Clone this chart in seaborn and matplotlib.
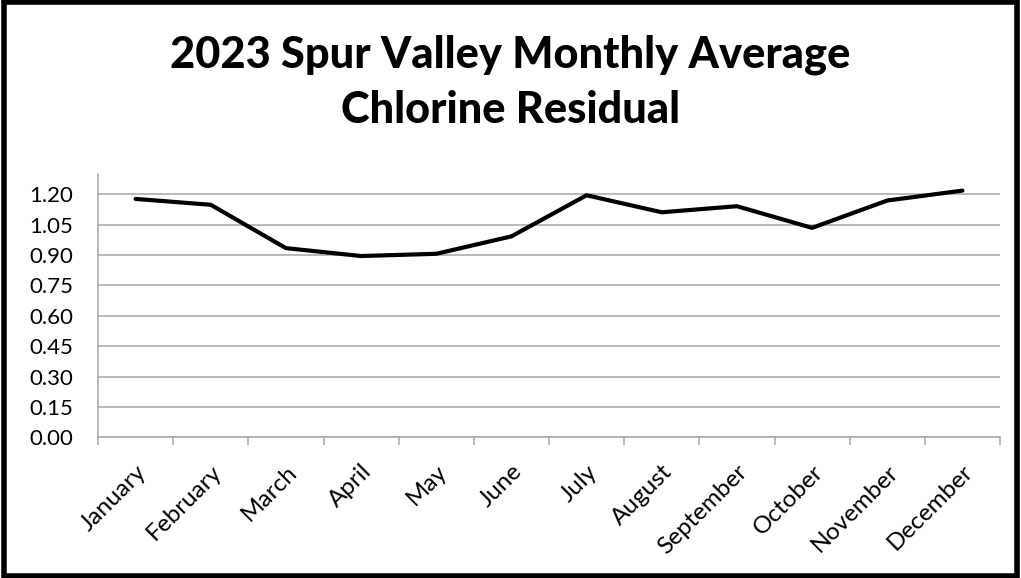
import matplotlib
matplotlib.use("Agg")
import matplotlib.pyplot as plt
import seaborn as sns
import pandas as pd
from matplotlib.patches import Rectangle
from matplotlib.ticker import FixedLocator

months = ["January", "February", "March", "April", "May", "June", "July",
          "August", "September", "October", "November", "December"]
chlorine = [1.177, 1.148, 0.934, 0.895, 0.906, 0.992, 1.195, 1.111, 1.141, 1.034, 1.169, 1.218]
yticks = [0.00, 0.15, 0.30, 0.45, 0.60, 0.75, 0.90, 1.05, 1.20]
title = "2023 Spur Valley Monthly Average\nChlorine Residual"

sns.set_style("white")
plt.rcParams['font.family'] = ['Lato', 'DejaVu Sans']

df = pd.DataFrame({"Month": months, "Chlorine": chlorine})

fig = plt.figure(figsize=(10.21, 5.78), dpi=100)
ax = fig.add_axes([98/1021, 1 - 437.3/578, (1000 - 98)/1021, (437.3 - 174)/578])

sns.lineplot(data=df, x="Month", y="Chlorine", ax=ax, color="black", linewidth=3.0, sort=False)

ax.set_xlim(-0.5, len(months) - 0.5)
ax.set_ylim(0, 1.30)
ax.set_yticks(yticks)
ax.set_yticklabels([f"{v:.2f}" for v in yticks])
ax.yaxis.grid(True, color="#a6a6a6", linewidth=1.1)
ax.set_axisbelow(True)

ax.set_xticks(range(len(months)))
ax.set_xticklabels(months, rotation=45, ha="right", rotation_mode="anchor")
ax.xaxis.set_minor_locator(FixedLocator([i - 0.5 for i in range(len(months) + 1)]))
ax.tick_params(axis="x", which="major", length=0, pad=17, labelsize=17.5, labelcolor="black")
ax.tick_params(axis="x", which="minor", length=6, width=1.1, color="#a6a6a6", direction="out", bottom=True)
ax.tick_params(axis="y", length=6, width=1.1, color="#a6a6a6", direction="out", labelsize=16, pad=12,
               labelcolor="black")

for s in ["top", "right"]:
    ax.spines[s].set_visible(False)
for s in ["left", "bottom"]:
    ax.spines[s].set_color("#a6a6a6")
    ax.spines[s].set_linewidth(1.1)

ax.set_xlabel("")
ax.set_ylabel("")

fig.text(0.5, 1 - 82/578, title, ha="center", va="center", fontsize=31.2,
         fontweight="black", linespacing=1.45, color="black")

fig.patches.append(Rectangle((0.004, 0.004), 0.992, 0.992, transform=fig.transFigure,
                             fill=False, edgecolor="black", linewidth=4))

fig.savefig("out.png", dpi=100)
